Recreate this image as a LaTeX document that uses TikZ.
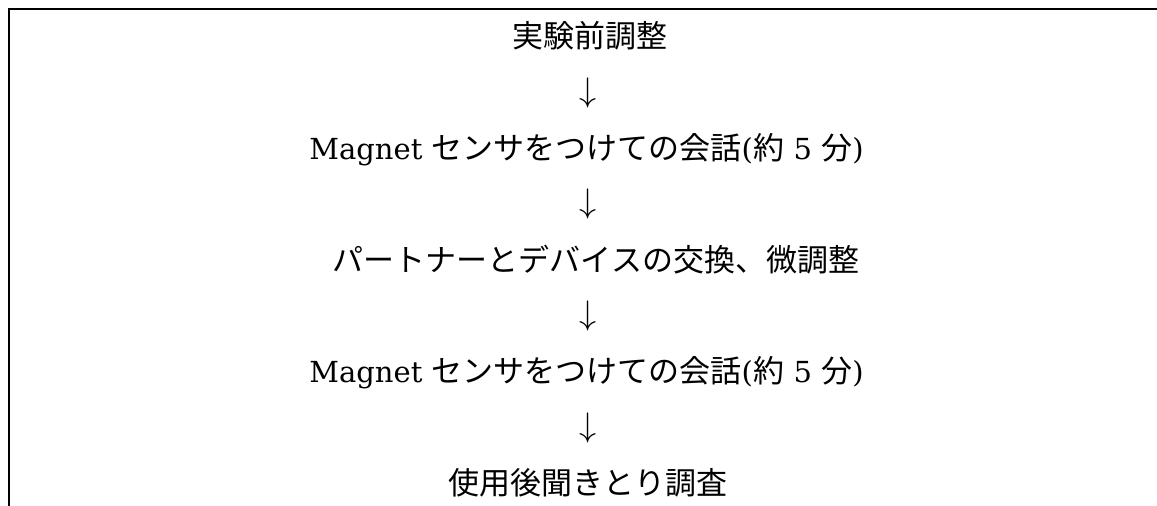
\documentclass[tikz,border=0pt]{standalone}
\usepackage{fontspec}
\setmainfont{DejaVu Serif}
\newfontfamily\cjk{Noto Sans CJK JP}
\newcommand{\bigdown}{\scalebox{1.37}{$\downarrow$}}
\begin{document}
\begin{tikzpicture}[x=1pt,y=-1pt,
  steptext/.style={anchor=base,inner sep=0pt,font=\fontsize{29pt}{36pt}\selectfont},
  arrowtext/.style={anchor=base,inner sep=0pt,font=\fontsize{24.88pt}{30pt}\selectfont}]
\useasboundingbox (0,0) rectangle (1157,506);
\draw[line width=1.6pt] (9,506) -- (9,9);
\draw[line width=2pt] (8.2,9) -- (1157,9);
\node[steptext] (s1) at (589.5,47) {\fontsize{31pt}{36pt}\cjk 実験前調整};
\node[arrowtext] (a1) at (588,101) {\bigdown};
\node[steptext] (s2) at (586.5,159) {Magnet {\fontsize{31pt}{36pt}\cjk センサをつけての会話}(\hspace{0.5pt}{\fontsize{31pt}{36pt}\cjk 約} 5 {\fontsize{31pt}{36pt}\cjk 分})};
\node[arrowtext] (a2) at (588,212.5) {\bigdown};
\node[steptext] (s3) at (596,271) {\fontsize{31pt}{36pt}\cjk パートナーとデバイスの交換、微調整};
\node[arrowtext] (a3) at (588,324.5) {\bigdown};
\node[steptext] (s4) at (586.5,382) {Magnet {\fontsize{31pt}{36pt}\cjk センサをつけての会話}(\hspace{0.5pt}{\fontsize{31pt}{36pt}\cjk 約} 5 {\fontsize{31pt}{36pt}\cjk 分})};
\node[arrowtext] (a4) at (588,436) {\bigdown};
\node[steptext] (s5) at (587.5,494) {\fontsize{31pt}{36pt}\cjk 使用後聞きとり調査};
\end{tikzpicture}
\end{document}
